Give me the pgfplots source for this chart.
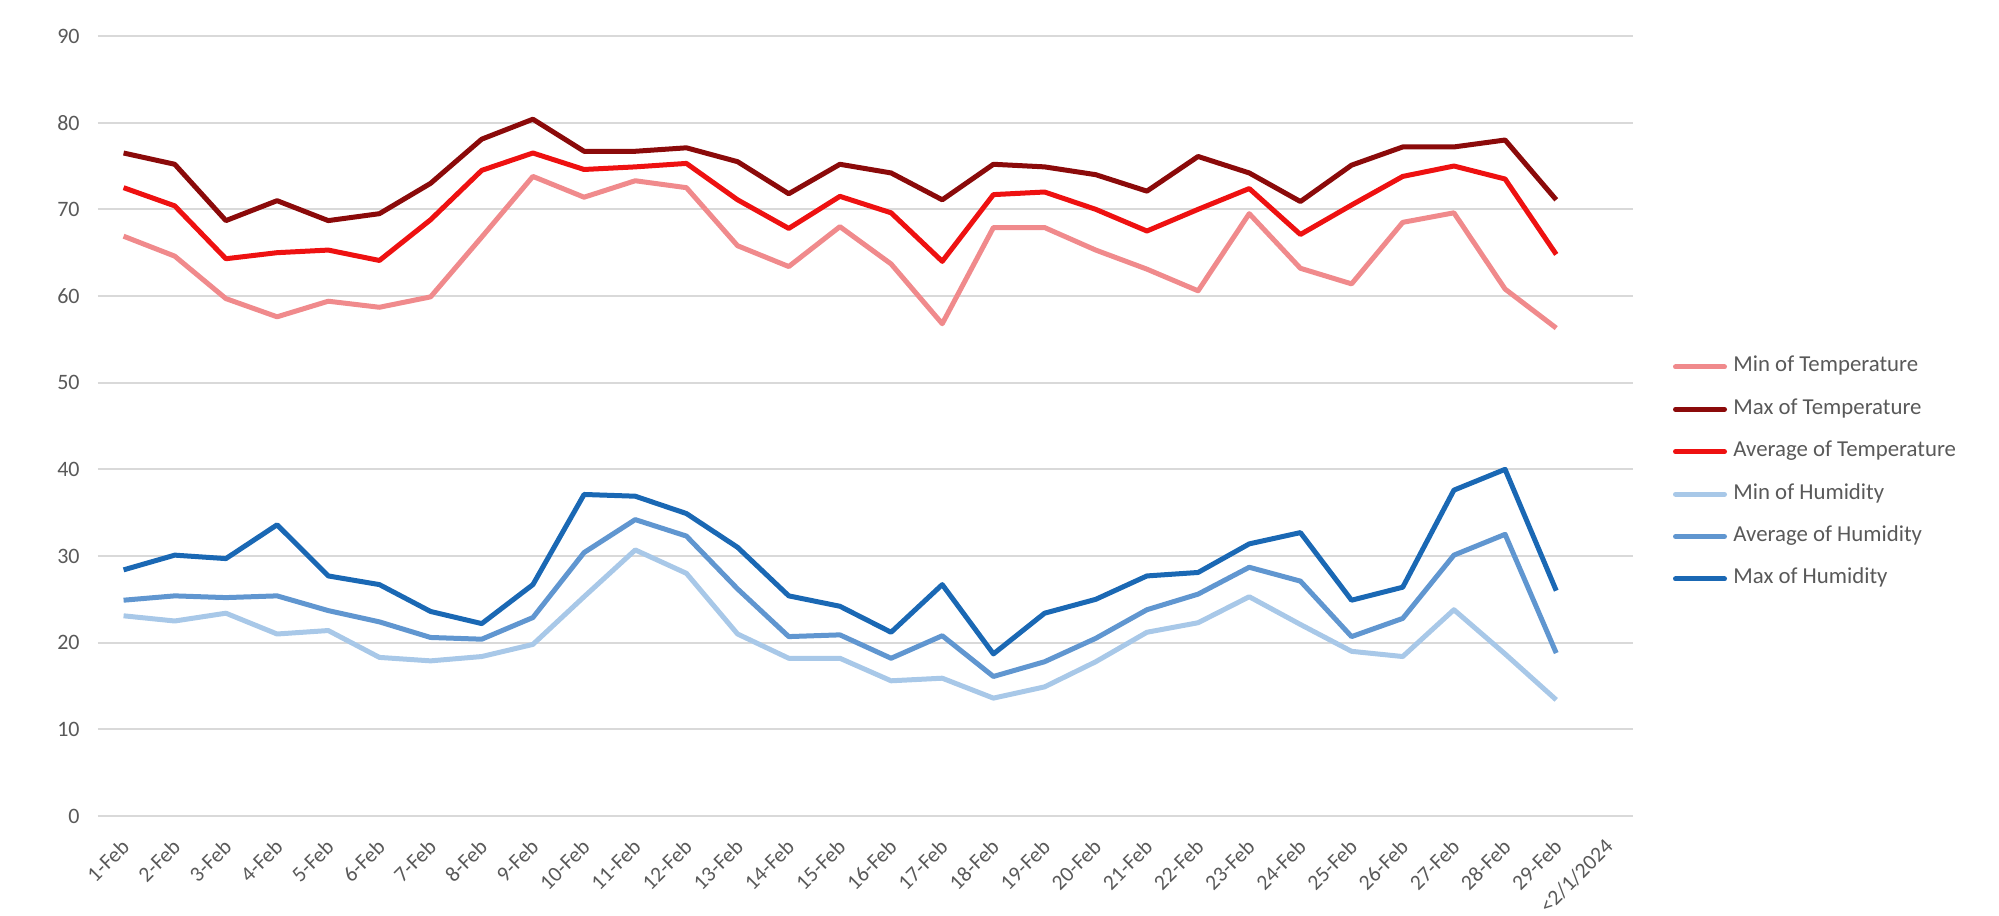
\documentclass[border=0pt]{standalone}
\usepackage{fontspec}
\setmainfont{Carlito}
\usepackage{pgfplots}
\usepackage{pgfplotstable}
\pgfplotsset{compat=1.18}
\definecolor{cminT}{HTML}{F08A8C}
\definecolor{cmaxT}{HTML}{8B0A0A}
\definecolor{cavgT}{HTML}{EE1111}
\definecolor{cminH}{HTML}{A8C8E8}
\definecolor{cavgH}{HTML}{6096D0}
\definecolor{cmaxH}{HTML}{1A68B4}
\definecolor{gridc}{HTML}{D9D9D9}
\definecolor{txt}{HTML}{595959}
\pgfplotstableread{
x minT maxT avgT minH avgH maxH
0 66.9 76.5 72.5 23.1 24.9 28.4
1 64.6 75.2 70.4 22.5 25.4 30.1
2 59.7 68.7 64.3 23.4 25.2 29.7
3 57.6 71.0 65.0 21.0 25.4 33.6
4 59.4 68.7 65.3 21.4 23.7 27.7
5 58.7 69.5 64.1 18.3 22.4 26.7
6 59.9 73.0 68.8 17.9 20.6 23.6
7 66.8 78.1 74.5 18.4 20.4 22.2
8 73.8 80.4 76.5 19.8 22.9 26.7
9 71.4 76.7 74.6 25.3 30.4 37.1
10 73.3 76.7 74.9 30.7 34.2 36.9
11 72.5 77.1 75.3 28.0 32.3 34.9
12 65.8 75.5 71.1 21.0 26.2 31.0
13 63.4 71.8 67.8 18.2 20.7 25.4
14 68.0 75.2 71.5 18.2 20.9 24.2
15 63.7 74.2 69.6 15.6 18.2 21.2
16 56.8 71.1 64.0 15.9 20.8 26.7
17 67.9 75.2 71.7 13.6 16.1 18.7
18 67.9 74.9 72.0 14.9 17.8 23.4
19 65.3 74.0 70.0 17.8 20.5 25.0
20 63.1 72.1 67.5 21.2 23.8 27.7
21 60.6 76.1 70.0 22.3 25.6 28.1
22 69.5 74.2 72.4 25.3 28.7 31.4
23 63.2 70.9 67.1 22.1 27.1 32.7
24 61.4 75.1 70.5 19.0 20.7 24.9
25 68.5 77.2 73.8 18.4 22.8 26.4
26 69.6 77.2 75.0 23.8 30.1 37.6
27 60.8 78.0 73.5 18.7 32.5 40.0
28 56.3 71.1 64.8 13.4 18.8 26.0
}\data
\begin{document}
\begin{tikzpicture}
\useasboundingbox (0,0) rectangle (999.5pt,458pt);
\begin{axis}[
  scale only axis, width=767.5pt, height=390pt,
  at={(49pt,50pt)}, anchor=south west,
  xmin=-0.5, xmax=29.5, ymin=0, ymax=90,
  xtick={0,...,29},
  xticklabels={1-Feb,2-Feb,3-Feb,4-Feb,5-Feb,6-Feb,7-Feb,8-Feb,9-Feb,10-Feb,11-Feb,12-Feb,13-Feb,14-Feb,15-Feb,16-Feb,17-Feb,18-Feb,19-Feb,20-Feb,21-Feb,22-Feb,23-Feb,24-Feb,25-Feb,26-Feb,27-Feb,28-Feb,29-Feb,<2/1/2024},
  ytick={0,10,...,90},
  axis line style={draw=none},
  major tick length=0pt,
  ymajorgrids,
  major grid style={color=gridc, line width=0.9pt},
  tick label style={font=\fontsize{11}{13}\selectfont, text=txt, inner sep=0pt},
  xticklabel style={font=\fontsize{10.8}{13}\selectfont, xshift=1pt, yshift=-13.5pt, rotate=45, anchor=east},
  yticklabel style={xshift=-9pt},
  /pgf/number format/assume math mode=true,
  legend style={at={(1.0258,0.4398)}, anchor=west, draw=none, fill=none,
    font=\fontsize{11.4}{13}\selectfont, text=txt, inner sep=0pt,
    row sep=12.2pt, column sep=0pt,
    nodes={inner sep=0pt, text height=7pt, text depth=2pt}},
  legend cell align=left,
  legend image code/.code={\draw[#1, line width=2.5pt, line cap=round] (0pt,0pt) -- (24.5pt,0pt);},
  every axis plot/.append style={line width=2.5pt, line join=round, mark=none},
]
\addplot[cminT] table[x=x, y=minT] {\data};
\addlegendentry{\kern3.2pt Min of Temperature}
\addplot[cmaxT] table[x=x, y=maxT] {\data};
\addlegendentry{\kern3.2pt Max of Temperature}
\addplot[cavgT] table[x=x, y=avgT] {\data};
\addlegendentry{\kern3.2pt Average of Temperature}
\addplot[cminH] table[x=x, y=minH] {\data};
\addlegendentry{\kern3.2pt Min of Humidity}
\addplot[cavgH] table[x=x, y=avgH] {\data};
\addlegendentry{\kern3.2pt Average of Humidity}
\addplot[cmaxH] table[x=x, y=maxH] {\data};
\addlegendentry{\kern3.2pt Max of Humidity}
\end{axis}
\end{tikzpicture}
\end{document}
